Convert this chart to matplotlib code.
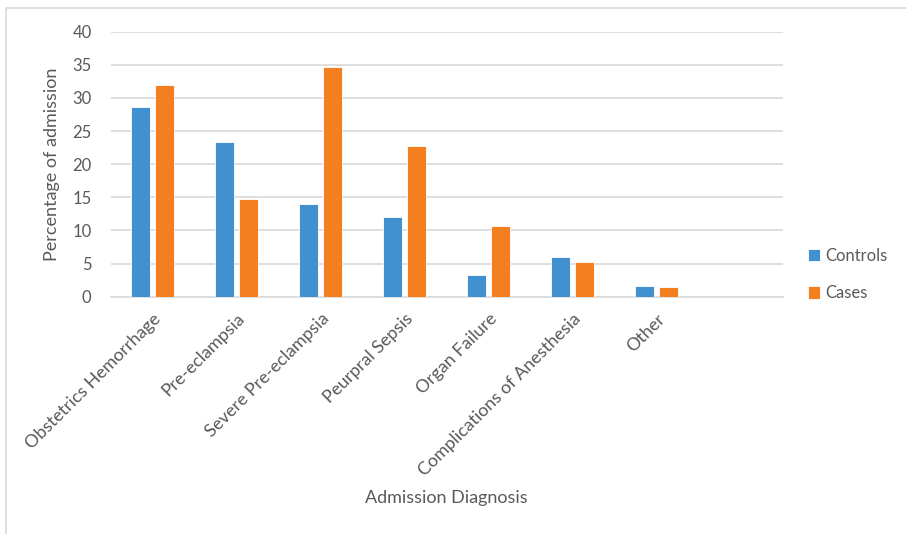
import matplotlib.pyplot as plt
import numpy as np
from matplotlib.patches import Rectangle

# chart data
categories = ["Obstetrics Hemorrhage", "Pre-eclampsia", "Severe Pre-eclampsia",
              "Peurpral Sepsis", "Organ Failure", "Complications of Anesthesia",
              "Other", ""]
controls = [28.7, 23.3, 14.0, 12.0, 3.3, 6.0, 1.6, 0]
cases = [32.0, 14.7, 34.7, 22.7, 10.7, 5.3, 1.4, 0]

blue = "#4191d1"
orange = "#f47f20"
grey_text = "#595959"

plt.rcParams["font.family"] = ["Lato", "DejaVu Sans"]

fig = plt.figure(figsize=(9.06, 5.34), dpi=100)
ax = fig.add_axes([0.1225, 0.4444, 0.7415, 0.4962])

x = np.arange(len(categories))
w = 0.226
gap = 0.06
ax.bar(x - (w + gap) / 2, controls, w, color=blue, edgecolor="white",
       linewidth=0.6, label="Controls", zorder=3)
ax.bar(x + (w + gap) / 2, cases, w, color=orange, edgecolor="white",
       linewidth=0.6, label="Cases", zorder=3)

ax.set_xlim(-0.5, len(categories) - 0.5)
ax.set_ylim(0, 40)
ax.set_yticks(range(0, 41, 5))
ax.yaxis.grid(True, color="#d9d9d9", linewidth=1.2, zorder=0)
ax.set_axisbelow(True)

for s in ["top", "right", "left"]:
    ax.spines[s].set_visible(False)
ax.spines["bottom"].set_color("#d9d9d9")
ax.spines["bottom"].set_linewidth(1.2)
ax.tick_params(length=0, colors=grey_text, labelsize=12)
ax.tick_params(axis="y", pad=14)

ax.set_xticks(x)
ax.set_xticklabels(categories, rotation=45, ha="right",
                   rotation_mode="anchor", fontsize=12.8, color=grey_text)
ax.tick_params(axis="x", pad=10)

ax.set_ylabel("Percentage of admission", fontsize=13, color=grey_text,
              labelpad=9)
fig.text(0.493, 0.068, "Admission Diagnosis", fontsize=13,
         color=grey_text, ha="center", va="center")

fig.legend(loc="center left", bbox_to_anchor=(0.875, 0.486), frameon=False,
           fontsize=12, labelcolor=grey_text, handlelength=0.75,
           handleheight=0.75, handletextpad=0.3, labelspacing=1.3)

# light frame round the chart area
fig.patches.append(Rectangle((6 / 906, -0.1), 1.2, 1 - 8 / 534 + 0.1,
                             transform=fig.transFigure, fill=False,
                             edgecolor="#d9d9d9", linewidth=1.2))

fig.savefig("out.png", dpi=100)
